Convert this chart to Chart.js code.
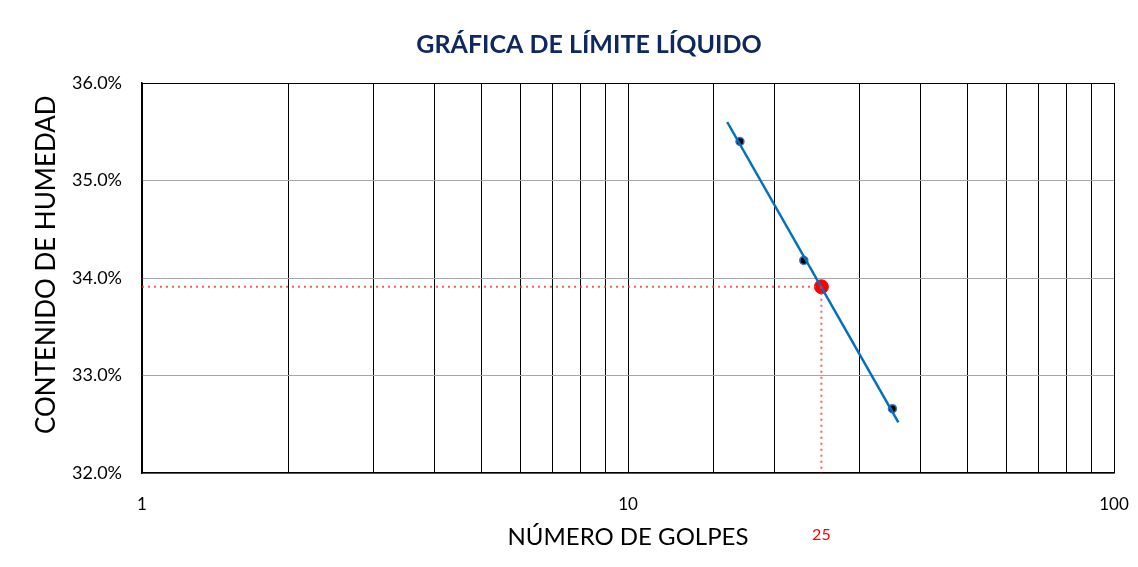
<!DOCTYPE html>
<html lang="es">
<head>
    <meta charset="UTF-8"/>
    <title>Límite líquido</title>
    <script src="https://cdn.jsdelivr.net/npm/chart.js"></script>
    <style>
        body { margin: 0; background: #fff; }
        .chart-container { width: 1138px; height: 567px; }
    </style>
</head>
<body>
    <div class="chart-container">
        <canvas id="myChart" width="1138" height="567"></canvas>
    </div>
    <script>
        var golpes = [17, 23, 35];
        var humedad = [35.4, 34.18, 32.66];
        // linea de tendencia (extremos)
        var tendenciaX = [16, 36];
        var tendenciaY = [35.6, 32.52];
        // limite liquido a 25 golpes
        var llGolpes = 25;
        var llHumedad = 33.91;
        var xLabels = [1, 10, 100];
        var titulo = 'GRÁFICA DE LÍMITE LÍQUIDO';

        function puntos(xs, ys) {
            return xs.map(function (x, i) { return { x: x, y: ys[i] }; });
        }

        var rojo = 'rgba(255, 50, 50, 0.8)';

        var textos = {
            id: 'textos',
            afterDraw: function (chart) {
                var ctx = chart.ctx;
                var x = chart.scales.x.getPixelForValue(llGolpes);
                ctx.save();
                ctx.textAlign = 'center';
                ctx.textBaseline = 'middle';
                ctx.fillStyle = '#FF0000';
                ctx.font = '16px Lato';
                ctx.fillText(String(llGolpes), x, 535);
                ctx.fillStyle = '#0E2860';
                ctx.font = 'bold 25px Lato';
                ctx.fillText(titulo, 589, 45);
                ctx.restore();
            }
        };

        var ctx = document.getElementById('myChart').getContext('2d');
        var myChart = new Chart(ctx, {
            type: 'scatter',
            data: {
                datasets: [{
                    label: 'Horizontal',
                    data: [{ x: 1, y: llHumedad }, { x: llGolpes, y: llHumedad }],
                    showLine: true,
                    borderColor: rojo,
                    borderWidth: 2,
                    borderDash: [2, 4],
                    pointRadius: 0
                }, {
                    label: 'Vertical',
                    data: [{ x: llGolpes, y: llHumedad }, { x: llGolpes, y: 32 }],
                    showLine: true,
                    borderColor: rojo,
                    borderWidth: 2,
                    borderDash: [2, 4],
                    pointRadius: 0
                }, {
                    label: 'Tendencia',
                    data: puntos(tendenciaX, tendenciaY),
                    showLine: true,
                    borderColor: '#0070C0',
                    borderWidth: 2.5,
                    pointRadius: 0
                }, {
                    label: 'Ensayo',
                    data: puntos(golpes, humedad),
                    backgroundColor: '#000000',
                    borderColor: '#4472C4',
                    borderWidth: 1.5,
                    pointRadius: 4
                }, {
                    label: 'LL',
                    data: [{ x: llGolpes, y: llHumedad }],
                    backgroundColor: '#FF0000',
                    borderColor: '#FF0000',
                    pointRadius: 7
                }]
            },
            options: {
                responsive: false,
                animation: false,
                layout: { padding: { top: 83, right: 24, bottom: 0, left: 0 } },
                plugins: {
                    legend: { display: false },
                    tooltip: { enabled: false },
                    title: { display: false }
                },
                scales: {
                    x: {
                        type: 'logarithmic',
                        min: 1,
                        max: 100,
                        afterFit: function (scale) {
                            scale.height = 94;
                            scale.paddingLeft = 0;
                            scale.paddingRight = 0;
                        },
                        grid: { color: '#000000', lineWidth: 1, drawTicks: false },
                        border: { color: '#000000', width: 1.5 },
                        ticks: {
                            autoSkip: false,
                            maxRotation: 0,
                            padding: 21,
                            color: '#000000',
                            font: { family: 'Lato', size: 17 },
                            callback: function (value) {
                                return xLabels.indexOf(value) >= 0 ? String(value) : '';
                            }
                        },
                        title: {
                            display: true,
                            text: 'NÚMERO DE GOLPES',
                            color: '#000000',
                            font: { family: 'Lato', size: 24 },
                            padding: { top: 0, bottom: 15 }
                        }
                    },
                    y: {
                        min: 32,
                        max: 36,
                        afterFit: function (scale) {
                            scale.width = 142;
                            scale.paddingTop = 0;
                            scale.paddingBottom = 0;
                        },
                        grid: {
                            drawTicks: false,
                            color: function (c) { return c.tick.value === 36 ? '#000000' : '#A6A6A6'; }
                        },
                        border: { color: '#000000', width: 1.5 },
                        ticks: {
                            stepSize: 1,
                            padding: 20,
                            color: '#000000',
                            font: { family: 'Lato', size: 18 },
                            callback: function (value) { return value.toFixed(1) + '%'; }
                        },
                        title: {
                            display: true,
                            text: '    CONTENIDO DE HUMEDAD',
                            color: '#000000',
                            font: { family: 'Lato', size: 26 },
                            padding: { top: 31, bottom: 0 }
                        }
                    }
                }
            },
            plugins: [textos]
        });
    </script>
</body>
</html>
